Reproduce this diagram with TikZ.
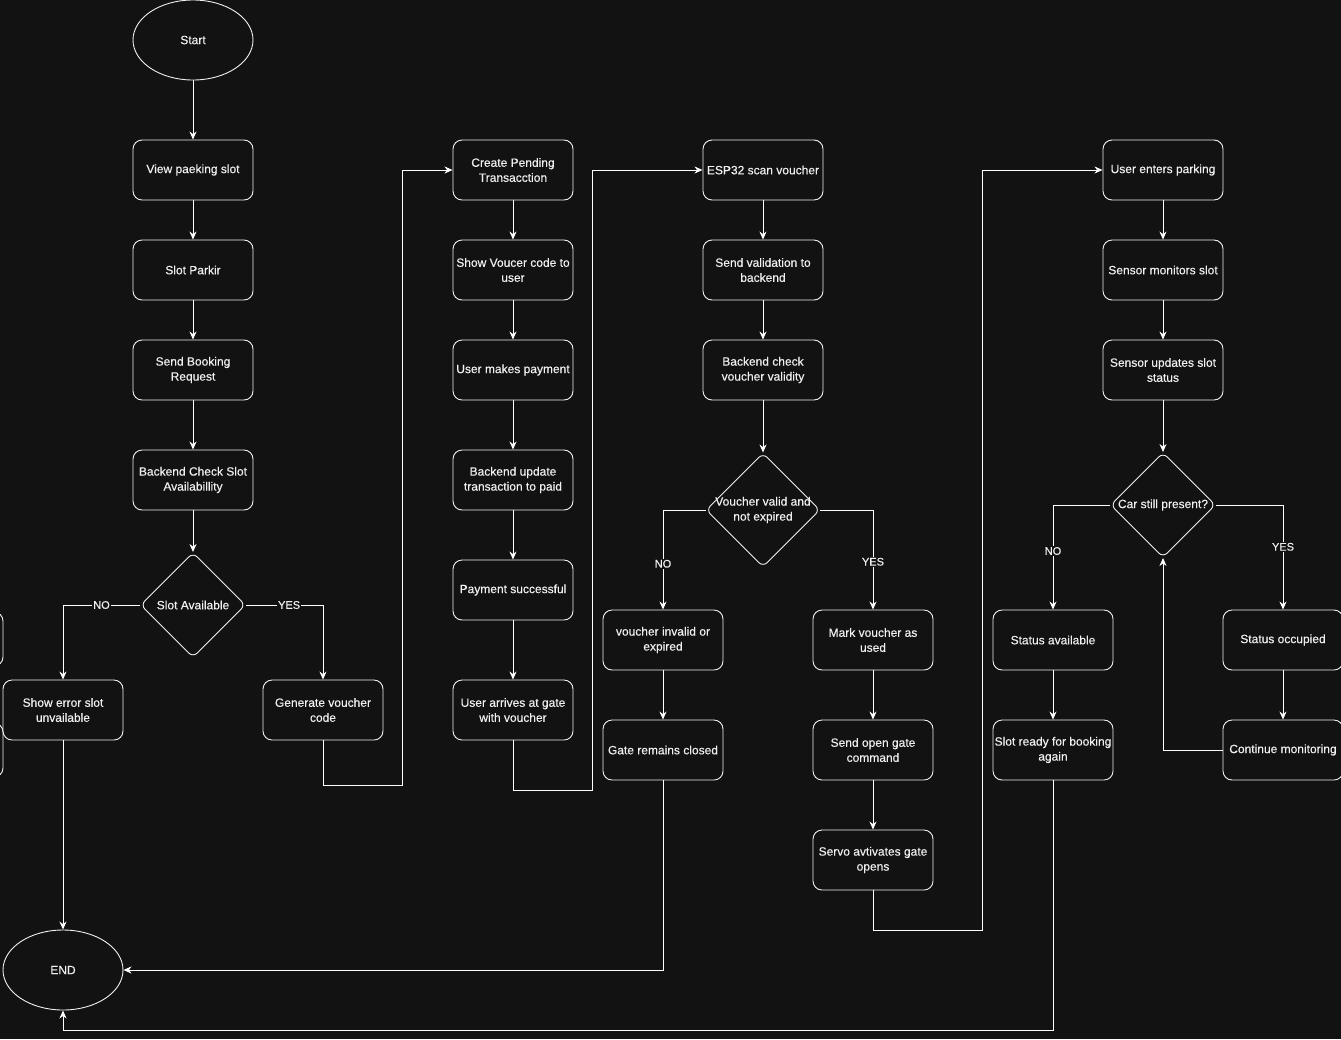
\documentclass[tikz,border=0pt]{standalone}
\usepackage{fontspec}
\setmainfont{Liberation Sans}
\newfontfamily\diagfont{Liberation Sans}[FakeBold=0.35]
\usetikzlibrary{shapes.geometric,arrows.meta,calc}
\definecolor{bg}{HTML}{121212}
\definecolor{fg}{HTML}{F0F0F0}
\begin{document}
\begin{tikzpicture}[x=1pt,y=-1pt,
  every node/.style={font=\diagfont\fontsize{12}{15}\selectfont, text=fg, align=center},
  box/.style={draw=fg, fill=bg, rounded corners=9pt, minimum width=120pt, minimum height=60pt, inner sep=0pt, line width=0.9pt},
  oval/.style={ellipse, draw=fg, fill=bg, minimum width=120pt, minimum height=80pt, inner sep=0pt, line width=0.9pt},
  dia/.style={diamond, draw=fg, fill=bg, rounded corners=6pt, inner sep=0pt, line width=0.9pt},
  lbl/.style={fill=bg, inner sep=1pt, font=\diagfont\fontsize{11}{13}\selectfont},
  arr/.style={draw=white, line width=1pt, -{Stealth[length=8pt,width=7pt,inset=2.5pt]}},
  ln/.style={draw=white, line width=1pt}]
\fill[bg] (0,0) rectangle (1341,1039);
\useasboundingbox (0,0) rectangle (1341,1039);

% partial boxes at left edge
\node[box, minimum height=54pt] (pa) at (-57,639) {};
\node[box, minimum height=54pt] (pb) at (-57,750) {};

% column 1
\node[oval] (start) at (193,40) {Start};
\node[box] (vps) at (193,170) {View paeking slot};
\node[box] (sp) at (193,270) {Slot Parkir};
\node[box] (sbr) at (193,370) {Send Booking\\Request};
\node[box] (bcs) at (193,480) {Backend Check Slot\\Availabillity};
\node[dia, minimum width=105pt, minimum height=105pt] (d1) at (193,605) {};
\node (d1t) at (d1) {Slot Available};
\node[box] (se) at (63,710) {Show error slot\\unvailable};
\node[box] (gen) at (323,710) {Generate voucher\\code};
\node[oval] (endn) at (63,970) {END};

% column 2
\node[box] (cpt) at (513,170) {Create Pending\\Transacction};
\node[box] (svc) at (513,270) {Show Voucer code to\\user};
\node[box] (ump) at (513,370) {User makes payment};
\node[box] (but) at (513,480) {Backend update\\transaction to paid};
\node[box] (ps) at (513,590) {Payment successful};
\node[box] (uag) at (513,710) {User arrives at gate\\with voucher};

% column 3
\node[box] (esp) at (763,170) {ESP32 scan voucher};
\node[box] (svb) at (763,270) {Send validation to\\backend};
\node[box] (bcv) at (763,370) {Backend check\\voucher validity};
\node[dia, minimum width=114pt, minimum height=114pt] (d2) at (763,510) {};
\node (d2t) at (763,510) {Voucher valid and\\not expired};
\node[box] (vie) at (663,640) {voucher invalid or\\expired};
\node[box] (grc) at (663,750) {Gate remains closed};
\node[box] (mvu) at (873,640) {Mark voucher as\\used};
\node[box] (sog) at (873,750) {Send open gate\\command};
\node[box] (servo) at (873,860) {Servo avtivates gate\\opens};

% column 4
\node[box] (uep) at (1163,170) {User enters parking};
\node[box] (sms) at (1163,270) {Sensor monitors slot};
\node[box] (sus) at (1163,370) {Sensor updates slot\\status};
\node[dia, minimum width=105pt, minimum height=105pt] (d3) at (1163,505) {};
\node (d3t) at (d3) {Car still present?};
\node[box] (sa) at (1053,640) {Status available};
\node[box] (srb) at (1053,750) {Slot ready for booking\\again};
\node[box] (so) at (1283,640) {Status occupied};
\node[box] (cm) at (1283,750) {Continue monitoring};

% connectors column 1
\draw[arr] (start) -- (vps);
\draw[arr] (vps) -- (sp);
\draw[arr] (sp) -- (sbr);
\draw[arr] (sbr) -- (bcs);
\draw[arr] (bcs) -- (d1);
\draw[arr] (d1.west) -| node[lbl, pos=0.25] (l1) {NO} (se.north);
\draw[arr] (d1.east) -| node[lbl, pos=0.28] (l2) {YES} (gen.north);
\draw[arr] (se) -- (endn);
\draw[arr] (gen.south) -- ++(0,45) -| ([xshift=-50pt]cpt.west) -- (cpt.west);

% column 2
\draw[arr] (cpt) -- (svc);
\draw[arr] (svc) -- (ump);
\draw[arr] (ump) -- (but);
\draw[arr] (but) -- (ps);
\draw[arr] (ps) -- (uag);
\draw[arr] (uag.south) -- ++(0,50) -| ([xshift=-110pt]esp.west) -- (esp.west);

% column 3
\draw[arr] (esp) -- (svb);
\draw[arr] (svb) -- (bcv);
\draw[arr] (bcv) -- (d2);
\draw[arr] (d2.west) -| node[lbl, pos=0.77] (l3) {NO} (vie.north);
\draw[arr] (d2.east) -| node[lbl, pos=0.76] (l4) {YES} (mvu.north);
\draw[arr] (vie) -- (grc);
\draw[arr] (grc.south) |- (endn.east);
\draw[arr] (mvu) -- (sog);
\draw[arr] (sog) -- (servo);
\draw[arr] (servo.south) -- ++(0,40) -| ([xshift=-120pt]uep.west) -- (uep.west);

% column 4
\draw[arr] (uep) -- (sms);
\draw[arr] (sms) -- (sus);
\draw[arr] (sus) -- (d3);
\draw[arr] (d3.west) -| node[lbl, pos=0.72] (l5) {NO} (sa.north);
\draw[arr] (d3.east) -| node[lbl, pos=0.7] (l6) {YES} (so.north);
\draw[arr] (sa) -- (srb);
\draw[arr] (srb.south) -- ++(0,250) -| (endn.south);
\draw[arr] (so) -- (cm);
\draw[arr] (cm.west) -| (d3.south);
\end{tikzpicture}
\end{document}
